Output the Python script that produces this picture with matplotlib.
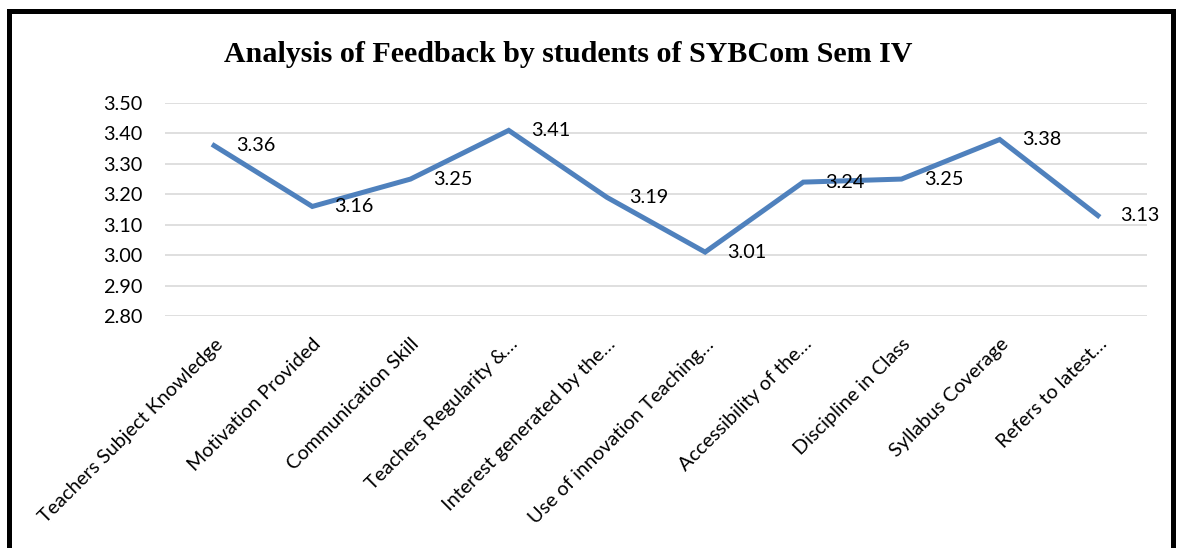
import matplotlib
matplotlib.use("Agg")
import matplotlib.pyplot as plt
from matplotlib.patches import Rectangle

categories = ["Teachers Subject Knowledge", "Motivation Provided", "Communication Skill",
              "Teachers Regularity &…", "Interest generated by the…", "Use of innovation Teaching…",
              "Accessibility of the…", "Discipline in Class", "Syllabus Coverage", "Refers to latest…"]
values = [3.36, 3.16, 3.25, 3.41, 3.19, 3.01, 3.24, 3.25, 3.38, 3.13]
yticks = [2.80, 2.90, 3.00, 3.10, 3.20, 3.30, 3.40, 3.50]
title = "Analysis of Feedback by students of SYBCom Sem IV"

W, H, DPI = 1185, 548, 100
fig = plt.figure(figsize=(W / DPI, H / DPI), dpi=DPI)
fig.patch.set_facecolor("white")

FS = 14.3
ax = fig.add_axes([165 / W, 1 - 316 / H, (1147 - 165) / W, (316 - 103) / H])
x = list(range(len(categories)))
ax.plot(x, values, color="#4F81BD", linewidth=3.6, solid_joinstyle="miter", zorder=3)
ax.set_xlim(-0.5, len(categories) - 0.5)
ax.set_ylim(2.80, 3.50)
ax.set_yticks(yticks)
ax.set_yticklabels([f"{v:.2f}" for v in yticks], fontsize=FS, family="Lato")
ax.yaxis.grid(True, color="#D9D9D9", linewidth=1.2)
ax.set_axisbelow(True)
for s in ax.spines.values():
    s.set_visible(False)
ax.tick_params(axis="y", length=0, pad=16)
ax.tick_params(axis="x", length=0, pad=14)
ax.set_xticks(x)
ax.set_xticklabels(categories, rotation=45, ha="right", va="top", rotation_mode="anchor",
                   fontsize=FS, family="Lato")

for xi, v in zip(x, values):
    ax.annotate(f"{v:.2f}", (xi, v), xytext=(16, 0), textcoords="offset points",
                ha="left", va="center", fontsize=FS, family="Lato", color="black")

fig.text(568 / W, 1 - 55 / H, title, ha="center", va="center", fontsize=21.6,
         fontweight="bold", family="Liberation Serif")

fig.patches.append(Rectangle((9 / W, -0.05), (1173 - 9) / W, (1 - 11 / H) + 0.05,
                             transform=fig.transFigure, fill=False, edgecolor="black",
                             linewidth=3.6, clip_on=False))

fig.savefig("out.png", dpi=DPI, facecolor="white")
